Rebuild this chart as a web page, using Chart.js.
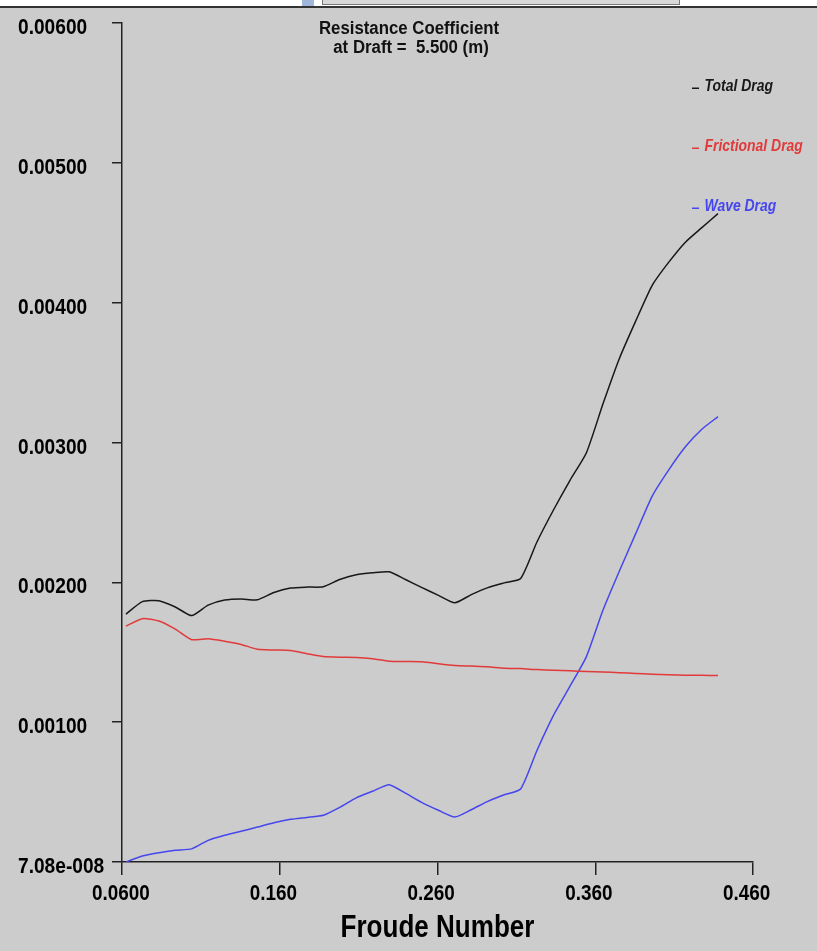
<!DOCTYPE html>
<html>
<head>
<meta charset="utf-8">
<title>Resistance Coefficient</title>
<script src="https://cdn.jsdelivr.net/npm/chart.js@4.4.0/dist/chart.umd.min.js"></script>
<style>
  html, body { margin: 0; padding: 0; background: #cccccc; }
  #wrap { position: relative; width: 817px; height: 951px; overflow: hidden; }
  #topbar { position: absolute; left: 0; top: 0; width: 817px; height: 6px; background: #ffffff; border-bottom: 2px solid #333333; }
  #icon { position: absolute; left: 302px; top: 0; width: 12px; height: 6px; background: #9fb6dd; }
  #frame { position: absolute; left: 322px; top: 0; width: 356px; height: 4px; background: #d8d8d8; border: 1px solid #777777; border-top: none; }
  canvas { position: absolute; left: 0; top: 0; }
</style>
</head>
<body>
<div id="wrap">
  <div id="topbar"></div>
  <div id="icon"></div>
  <div id="frame"></div>
  <canvas id="chart" width="817" height="951"></canvas>
</div>
<script>
// Froude numbers where the coefficients were sampled
const froude = [0.0625, 0.0729, 0.0834, 0.0938, 0.1042, 0.1146, 0.1251, 0.1355, 0.1459, 0.1563,
                0.1668, 0.1772, 0.1876, 0.1980, 0.2085, 0.2189, 0.2293, 0.2397, 0.2502, 0.2606,
                0.2710, 0.2814, 0.2919, 0.3023, 0.3127, 0.3231, 0.3336, 0.3440, 0.3544, 0.3648,
                0.3753, 0.3857, 0.3961, 0.4065, 0.4170, 0.4274, 0.4378];

const totalDrag = [0.001773, 0.001862, 0.001869, 0.001824, 0.001762, 0.001837, 0.001873, 0.001881, 0.001875, 0.001927,
                   0.001959, 0.001966, 0.001968, 0.002020, 0.002054, 0.002068, 0.002075, 0.002020, 0.001962, 0.001907,
                   0.001854, 0.001912, 0.001962, 0.001996, 0.002027, 0.002290, 0.002519, 0.002730, 0.002927, 0.003273,
                   0.003601, 0.003870, 0.004124, 0.004288, 0.004431, 0.004535, 0.004637];

const frictionalDrag = [0.001687, 0.001740, 0.001723, 0.001665, 0.001590, 0.001597, 0.001579, 0.001556, 0.001521, 0.001516,
                        0.001512, 0.001490, 0.001469, 0.001464, 0.001463, 0.001454, 0.001436, 0.001434, 0.001432, 0.001418,
                        0.001406, 0.001401, 0.001396, 0.001386, 0.001383, 0.001376, 0.001372, 0.001367, 0.001363, 0.001359,
                        0.001354, 0.001348, 0.001343, 0.001339, 0.001336, 0.001335, 0.001334];

const waveDrag = [0.0000001, 0.000043, 0.000066, 0.000084, 0.000094, 0.000155, 0.000191, 0.000220, 0.000250, 0.000281,
                  0.000305, 0.000319, 0.000334, 0.000391, 0.000459, 0.000506, 0.000553, 0.000492, 0.000425, 0.000370,
                  0.000322, 0.000374, 0.000434, 0.000481, 0.000522, 0.000799, 0.001050, 0.001257, 0.001469, 0.001798,
                  0.002081, 0.002350, 0.002617, 0.002803, 0.002968, 0.003093, 0.003185];

const xTickValues = [0.06, 0.16, 0.26, 0.36, 0.46];
const xTickLabels = ['0.0600', '0.160', '0.260', '0.360', '0.460'];
const yTickValues = [0, 0.001, 0.002, 0.003, 0.004, 0.005, 0.006];
const yTickLabels = ['7.08e-008', '0.00100', '0.00200', '0.00300', '0.00400', '0.00500', '0.00600'];

const xTitle = 'Froude Number';
const titleLines = ['Resistance Coefficient', 'at Draft =  5.500 (m)'];
const seriesNames = ['Total Drag', 'Frictional Drag', 'Wave Drag'];
const seriesColors = ['#181818', '#e23a3a', '#4646ee'];

const FONT = '"Liberation Sans", Arial, sans-serif';

function toPoints(values){
	return froude.map((f, i) => ({ x: f, y: values[i] }));
}

// texto comprimido en horizontal (no hay fuente "narrow" instalada)
function narrowText(ctx, text, x, y, sx, align){
	ctx.save();
	ctx.translate(x, y);
	ctx.scale(sx, 1);
	ctx.textAlign = align;
	ctx.textBaseline = 'alphabetic';
	ctx.fillText(text, 0, 0);
	ctx.restore();
}

/** etiquetas de ejes, titulo y leyenda */
const labelsPlugin = {
	id: 'labels',
	afterDraw(chart){
		const ctx = chart.ctx;
		const xs = chart.scales.x, ys = chart.scales.y;
		ctx.save();
		ctx.fillStyle = '#000000';

		ctx.font = 'bold 22px ' + FONT;
		xs.ticks.forEach((t, i) => {
			narrowText(ctx, xTickLabels[i], xs.getPixelForValue(t.value) - 30, xs.top + 38, 0.86, 'left');
		});
		ys.ticks.forEach((t, i) => {
			narrowText(ctx, yTickLabels[i], 18, ys.getPixelForValue(t.value) + 11, 0.87, 'left');
		});

		ctx.font = 'bold 31px ' + FONT;
		narrowText(ctx, xTitle, (xs.left + xs.right) / 2, 936.5, 0.84, 'center');

		ctx.fillStyle = '#111111';
		ctx.font = 'bold 17.5px ' + FONT;
		narrowText(ctx, titleLines[0], 409, 33.5, 0.96, 'center');
		narrowText(ctx, titleLines[1], 411, 52.5, 0.96, 'center');

		ctx.font = 'italic bold 17px ' + FONT;
		seriesNames.forEach((name, i) => {
			const y = 90.5 + i * 60;
			ctx.fillStyle = seriesColors[i];
			ctx.fillRect(692, y - 3, 7, 1.5);
			narrowText(ctx, name, 704.5, y, 0.82, 'left');
		});
		ctx.restore();
	}
};

const axisColor = '#222222';

new Chart(document.getElementById('chart').getContext('2d'), {
	type: 'line',
	data: {
		datasets: [totalDrag, frictionalDrag, waveDrag].map((vals, i) => ({
			label: seriesNames[i],
			data: toPoints(vals),
			borderColor: seriesColors[i],
			borderWidth: 1.5,
			pointRadius: 0,
			tension: 0.2,
			fill: false
		}))
	},
	options: {
		responsive: false,
		animation: false,
		devicePixelRatio: 1,
		layout: { padding: { left: 17, top: 23, right: 64, bottom: 0 } },
		plugins: { legend: { display: false }, tooltip: { enabled: false } },
		scales: {
			x: {
				type: 'linear', min: 0.06, max: 0.46,
				afterBuildTicks: s => { s.ticks = xTickValues.map(v => ({ value: v })); },
				afterFit: s => { s.height = 89; },
				border: { color: axisColor, width: 1.5 },
				grid: { drawOnChartArea: false, tickLength: 13, color: axisColor, lineWidth: 1.5 },
				ticks: { display: false }
			},
			y: {
				type: 'linear', min: 0, max: 0.006,
				afterBuildTicks: s => { s.ticks = yTickValues.map(v => ({ value: v })); },
				afterFit: s => { s.width = 105; },
				border: { color: axisColor, width: 1.5 },
				grid: { drawOnChartArea: false, tickLength: 10, color: axisColor, lineWidth: 1.5 },
				ticks: { display: false }
			}
		}
	},
	plugins: [labelsPlugin]
});
</script>
</body>
</html>
